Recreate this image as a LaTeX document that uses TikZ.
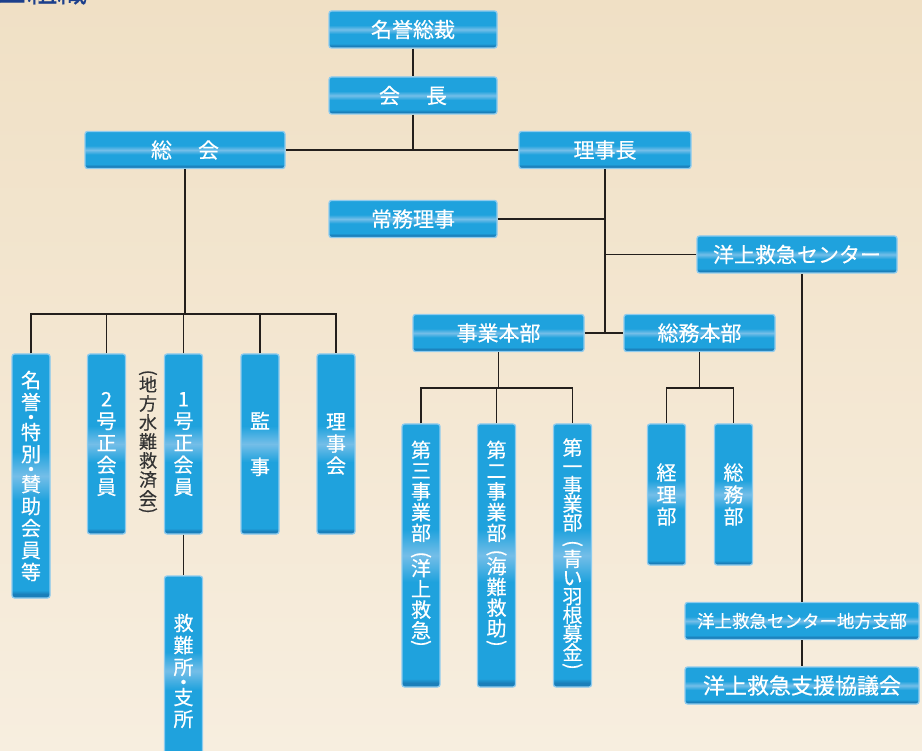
\documentclass[tikz,border=0pt]{standalone}
\usepackage{fontspec}
\setmainfont{Noto Sans CJK JP}[FakeBold=0.35]
\usepackage{graphicx}
\usepackage{tikz}
\definecolor{boxblue}{HTML}{1FA2DD}
\definecolor{boxlight}{HTML}{74BEE8}
\definecolor{boxdeep}{HTML}{1A7FBA}
\definecolor{boxrim}{HTML}{8ECBEE}
\definecolor{linkcol}{HTML}{231F1C}
\definecolor{papertone}{HTML}{F0E0C5}
\definecolor{paperpale}{HTML}{F7EEDF}
\definecolor{titlenavy}{HTML}{1C3F8C}
\definecolor{notegray}{HTML}{333333}
\pgfdeclareverticalshading{barshade}{100bp}{color(0bp)=(boxdeep); color(25bp)=(boxdeep); color(28bp)=(boxdeep); color(31bp)=(boxblue); color(44bp)=(boxblue); color(50bp)=(boxlight); color(56bp)=(boxblue); color(75bp)=(boxblue); color(100bp)=(boxblue)}
\pgfdeclareverticalshading{pillarshade}{100bp}{color(0bp)=(boxdeep); color(25bp)=(boxdeep); color(25.8bp)=(boxdeep); color(26.6bp)=(boxblue); color(45bp)=(boxblue); color(50bp)=(boxlight); color(55bp)=(boxblue); color(75bp)=(boxblue); color(100bp)=(boxblue)}
\tikzset{
  bar/.style={rectangle, rounded corners=2.5pt, draw=boxrim, line width=1.3pt, shade, shading=barshade, text=white, inner sep=0pt, minimum height=37pt, font=\fontsize{21}{23}\selectfont},
  pillar/.style={rectangle, rounded corners=2.5pt, draw=boxrim, line width=1.3pt, shade, shading=pillarshade, text=white, inner sep=0pt, minimum width=38pt, align=center, font=\fontsize{20}{22}\selectfont},
  note/.style={inner sep=0pt, align=center, text=notegray, font=\fontsize{18}{19}\selectfont},
  link/.style={draw=linkcol, line width=1.6pt},
}
\newcommand{\tatedot}{\\[-7pt]・\\[-7pt]}
\newcommand{\tatepar}[1]{\rotatebox[origin=c]{-90}{#1}}

\begin{document}
\begin{tikzpicture}[x=1pt,y=-1pt]
  \clip (0,0) rectangle (922,751);
  \shade[top color=papertone, bottom color=paperpale] (0,0) rectangle (922,751);
  \node[anchor=base west, inner sep=0pt, text=titlenavy, font=\fontsize{30}{30}\selectfont] (heading) at (-3,2) {■組織};

  % top of the tree
  \node[bar, minimum width=168pt] (patron) at (413,29.5) {名誉総裁};
  \node[bar, minimum width=168pt] (president) at (413,95.5) {会\hspace{26pt}長};
  \node[bar, minimum width=200pt] (assembly) at (185,150) {総\hspace{26pt}会};
  \node[bar, minimum width=172pt] (chairman) at (605,150) {理事長};
  \node[bar, minimum width=168pt] (managing) at (413,219) {常務理事};
  \node[bar, minimum width=200pt] (center) at (797,254.5) {洋上救急センター};
  \node[bar, minimum width=171pt] (opshq) at (498.5,333) {事業本部};
  \node[bar, minimum width=151pt] (adminhq) at (699.5,333) {総務本部};
  \node[bar, minimum width=234pt, font=\fontsize{17.5}{19}\selectfont] (branch) at (802,621) {洋上救急センター地方支部};
  \node[bar, minimum width=234pt, font=\fontsize{22}{23}\selectfont] (council) at (802,685.5) {洋上救急支援協議会};

  % members
  \node[pillar, minimum height=244pt] (honorary) at (31,476) {名\\誉\tatedot 特\\別\tatedot 賛\\助\\会\\員\\等};
  \node[pillar, minimum height=180pt] (regular2) at (106.5,444) {2\\号\\正\\会\\員};
  \node[pillar, minimum height=180pt] (regular1) at (183.5,444) {1\\号\\正\\会\\員};
  \node[note] (local) at (148,443) {\tatepar{(}\\[-6pt]地\\方\\水\\難\\救\\済\\会\\[-8pt]\tatepar{)}};
  \node[pillar, minimum height=180pt] (auditor) at (260,444) {監\\[24pt]事};
  \node[pillar, minimum height=180pt] (board) at (336,444) {理\\事\\会};
  \node[pillar, minimum height=190pt] (station) at (183.5,671) {救\\難\\所\tatedot 支\\所};

  % departments
  \node[pillar, minimum height=263pt, font=\fontsize{20}{20.7}\selectfont] (ops3) at (421,555.5)
    {第\\三\\事\\業\\部\\\tatepar{(}\\[-6pt]洋\\上\\救\\急\\[-9pt]\tatepar{)}\\\mbox{}};
  \node[pillar, minimum height=263pt, font=\fontsize{20}{20.7}\selectfont] (ops2) at (496.5,555.5)
    {第\\二\\事\\業\\部\\[-2pt]\tatepar{(}\\[-6pt]海\\難\\救\\助\\[-7pt]\tatepar{)}\\\mbox{}};
  \node[pillar, minimum height=263pt, font=\fontsize{20}{18.7}\selectfont] (ops1) at (572.5,555.5)
    {第\\一\\事\\業\\部\\[1pt]\tatepar{(}\\[-2pt]青\\い\\羽\\根\\募\\金\\[-6pt]\tatepar{)}};
  \node[pillar, minimum height=141pt] (accounts) at (666.5,494.5) {経\\理\\部};
  \node[pillar, minimum height=141pt] (affairs) at (733.5,494.5) {総\\務\\部};

  \coordinate (memberbus) at (184,314);
  \coordinate (opsbus) at (498.5,388);
  \coordinate (adminbus) at (699.5,388);

  % connectors
  \draw[link] (patron) -- (president);
  \draw[link] (president) -- (president |- assembly);
  \draw[link] (assembly) -- (chairman);
  \draw[link] (chairman) -- (chairman |- opshq);
  \draw[link] (opshq) -- (adminhq);
  \draw[link] (managing) -- (managing -| chairman);
  \draw[link] (center) -- (center -| chairman);
  \draw[link] (branch.north) -- (branch |- center.south);
  \draw[link] (branch) -- (council);
  \draw[link] (assembly) -- (assembly |- memberbus);
  \draw[link] (honorary.north) |- (memberbus) -| (board.north);
  \foreach \n in {regular2,regular1,auditor}
    \draw[link] (\n.north) -- (\n |- memberbus);
  \draw[link] (regular1) -- (station);
  \draw[link] (opshq) -- (opshq |- opsbus);
  \draw[link] (ops3.north) |- (opsbus) -| (ops1.north);
  \draw[link] (ops2.north) -- (ops2 |- opsbus);
  \draw[link] (adminhq) -- (adminhq |- adminbus);
  \draw[link] (accounts.north) |- (adminbus) -| (affairs.north);
\end{tikzpicture}
\end{document}
